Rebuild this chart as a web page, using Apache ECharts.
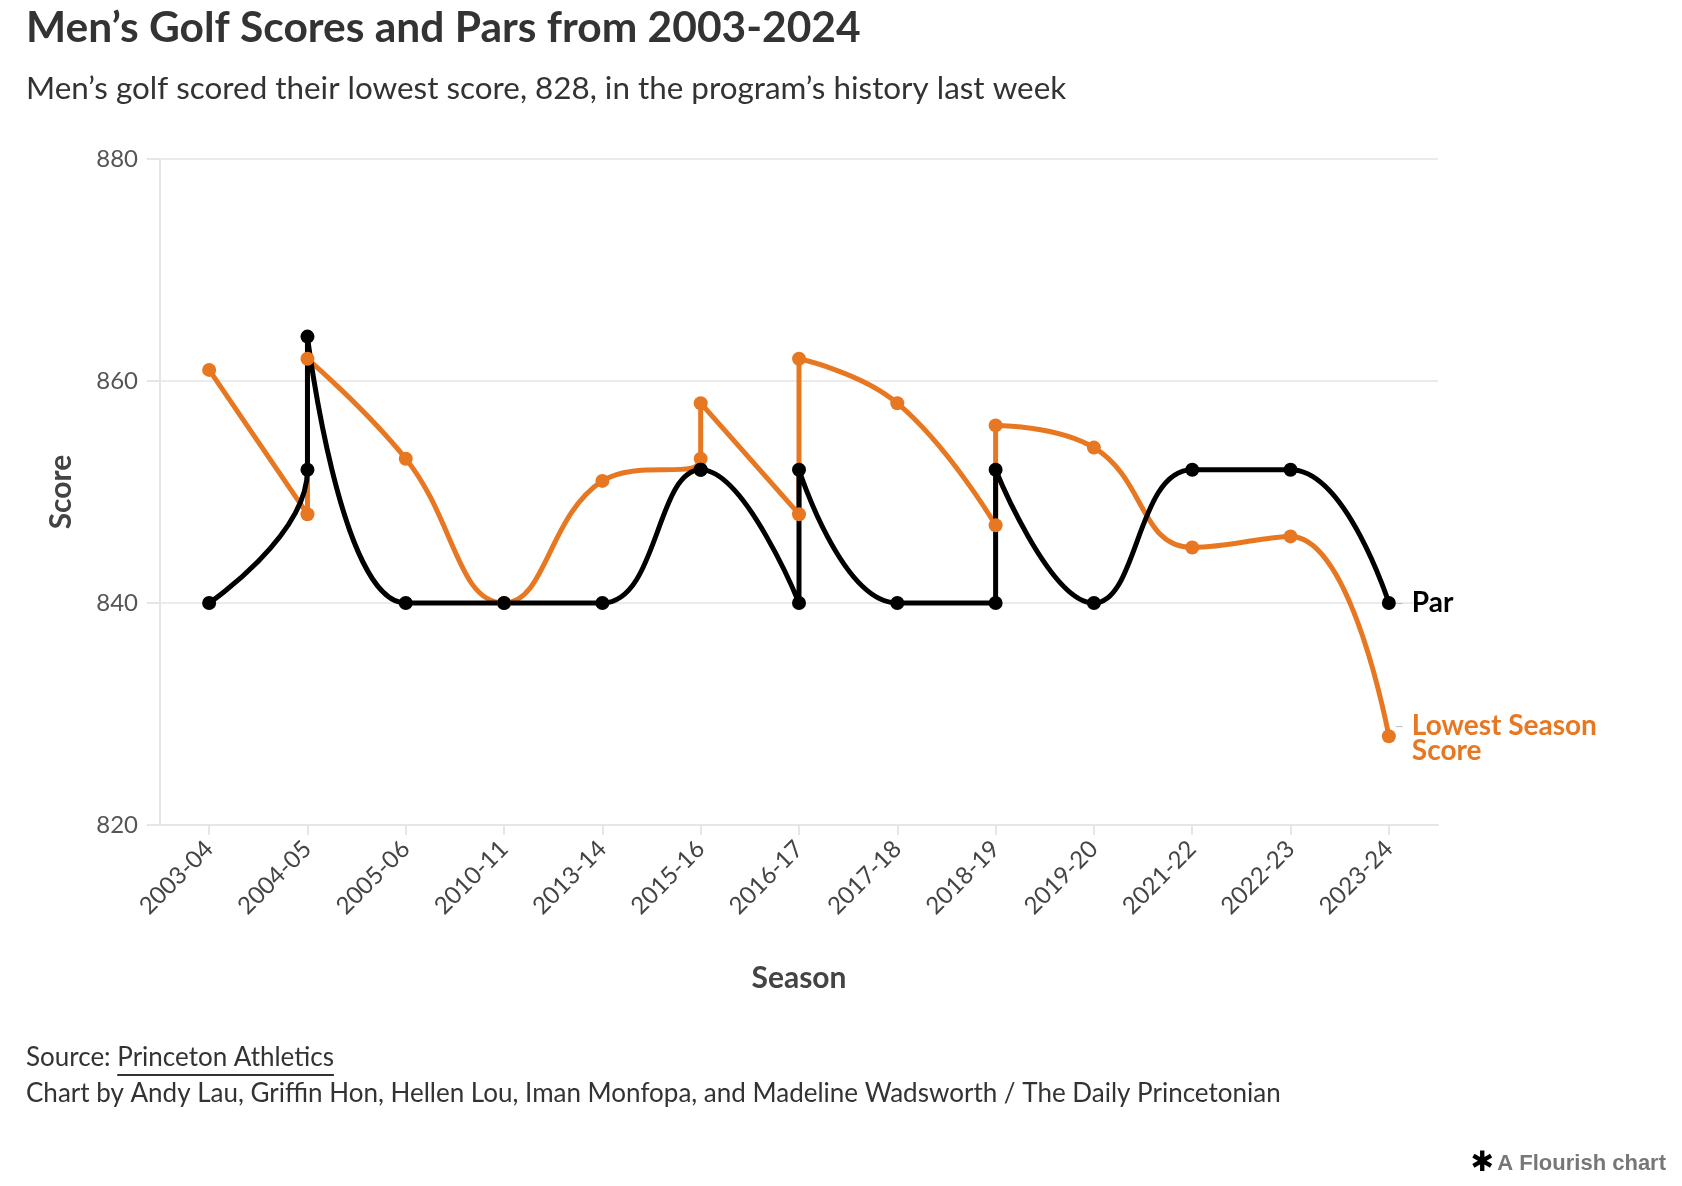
<!DOCTYPE html>
<html>
<head>
<meta charset="utf-8">
<script src="https://cdn.jsdelivr.net/npm/echarts@6.0.0/dist/echarts.min.js"></script>
<style>
html,body{margin:0;padding:0;background:#fff;}
#c{width:1682px;height:1186px;}
</style>
</head>
<body>
<div id="c"></div>
<script>
// ---- data ----
const seasons = ['2003-04','2004-05','2005-06','2010-11','2013-14','2015-16','2016-17','2017-18','2018-19','2019-20','2021-22','2022-23','2023-24'];
const rowSeason = ['2003-04','2004-05','2004-05','2005-06','2010-11','2013-14','2015-16','2015-16','2016-17','2016-17','2017-18','2018-19','2018-19','2019-20','2021-22','2022-23','2023-24'];
const lowestScore = [861,848,862,853,840,851,853,858,848,862,858,847,856,854,845,846,828];
const par = [840,852,864,840,840,840,852,852,840,852,840,840,852,840,852,852,840];
const yMin = 820, yMax = 880, yStep = 20;

const ORANGE = '#E87722';
const FONT = 'Lato, "Noto Sans", sans-serif';

function pts(vals){ return rowSeason.map((s,i)=>[seasons.indexOf(s), vals[i]]); }

const ctx = document.createElement('canvas').getContext('2d');
ctx.font = '26px Lato';
const srcW = ctx.measureText('Source: ').width;
const linkW = ctx.measureText('Princeton Athletics').width;

const chart = echarts.init(document.getElementById('c'), null, {renderer:'canvas'});
const option = {
  animation: false,
  backgroundColor: '#fff',
  textStyle: {fontFamily: FONT},
  grid: {left:160, right:244, top:159, bottom:361, containLabel:false, outerBoundsMode:'none'},
  xAxis: [
    {
      type:'category', data: seasons, boundaryGap:true,
      axisLine:{show:true, onZero:false, lineStyle:{color:'#e6e6e6', width:2}},
      axisTick:{show:true, alignWithLabel:true, length:10, lineStyle:{color:'#e6e6e6', width:2}},
      axisLabel:{interval:0, rotate:45, fontSize:24, color:'#444', margin:20, fontFamily:FONT},
      splitLine:{show:false},
      name:'Season', nameLocation:'middle', nameGap:138,
      nameTextStyle:{fontSize:30, fontWeight:'bold', color:'#444', fontFamily:FONT}
    },
    {type:'value', min:-0.5, max:12.5, show:false}
  ],
  yAxis: {
    type:'value', min:yMin, max:yMax, interval:yStep,
    axisLine:{show:true, onZero:false, lineStyle:{color:'#e6e6e6', width:2}},
    axisTick:{show:true, length:13, lineStyle:{color:'#e6e6e6', width:2}},
    axisLabel:{fontSize:24, color:'#555', margin:22, fontFamily:FONT},
    splitLine:{show:true, lineStyle:{color:'#ebebeb', width:2}},
    name:'Score', nameLocation:'middle', nameGap:84, nameRotate:90,
    nameTextStyle:{fontSize:30, fontWeight:'bold', color:'#444', fontFamily:FONT}
  },
  series: [
    {
      type:'line', name:'Lowest Season Score', xAxisIndex:1, data: pts(lowestScore),
      smooth:0.45, showSymbol:false, z:2,
      lineStyle:{color:ORANGE, width:5}, itemStyle:{color:ORANGE},
      endLabel:{
        show:true, distance:6, offset:[0,2],
        formatter:'{d|–}{t|Lowest Season}\n{p|}{t|Score}',
        rich:{
          d:{fontSize:16, color:'#bbb', width:17, fontFamily:FONT},
          p:{width:17},
          t:{fontSize:28, fontWeight:'bold', color:ORANGE, lineHeight:25, fontFamily:FONT}
        }
      }
    },
    {
      type:'line', name:'Par', xAxisIndex:1, data: pts(par),
      smooth:0.45, showSymbol:false, z:3,
      lineStyle:{color:'#000', width:5}, itemStyle:{color:'#000'},
      endLabel:{
        show:true, distance:6,
        formatter:'{d|–}{t|Par}',
        rich:{
          d:{fontSize:16, color:'#bbb', width:17, fontFamily:FONT},
          t:{fontSize:28, fontWeight:'bold', color:'#000', fontFamily:FONT}
        }
      }
    },
    {type:'scatter', xAxisIndex:1, data: pts(lowestScore), symbolSize:14, itemStyle:{color:ORANGE, opacity:1}, z:4},
    {type:'scatter', xAxisIndex:1, data: pts(par), symbolSize:14, itemStyle:{color:'#000', opacity:1}, z:5}
  ],
  graphic: [
    {type:'text', left:26, top:7, style:{text:'Men’s Golf Scores and Pars from 2003-2024', font:'bold 42.5px Lato', fill:'#333'}},
    {type:'text', left:26, top:73, style:{text:'Men’s golf scored their lowest score, 828, in the program’s history last week', font:'31.4px Lato', fill:'#333'}},
    {type:'text', left:26, top:1045, style:{text:'Source: ', font:'26px Lato', fill:'#333'}},
    {type:'text', left:26+srcW, top:1045, style:{text:'Princeton Athletics', font:'26px Lato', fill:'#333'}},
    {type:'line', shape:{x1:26+srcW, y1:1075, x2:26+srcW+linkW, y2:1075}, style:{stroke:'#333', lineWidth:2}},
    {type:'text', left:26, top:1081, style:{text:'Chart by Andy Lau, Griffin Hon, Hellen Lou, Iman Monfopa, and Madeline Wadsworth / The Daily Princetonian', font:'26px Lato', fill:'#333'}},
    {type:'text', right:16, top:1150, style:{text:'{i|✱} {t|A Flourish chart}', rich:{i:{fontSize:28, fill:'#000', fontFamily:'DejaVu Sans'}, t:{fontSize:22, fontWeight:'bold', fill:'#777', fontFamily:'"Liberation Sans", Arial, sans-serif'}}}}
  ]
};
chart.setOption(option);
</script>
</body>
</html>
